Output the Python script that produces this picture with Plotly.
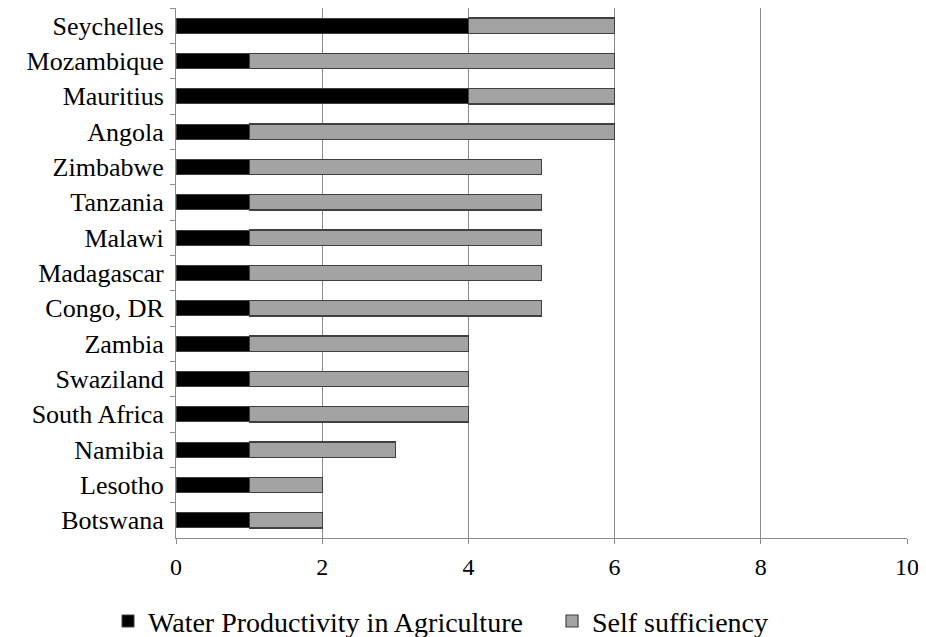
import plotly.graph_objects as go

countries = ["Seychelles", "Mozambique", "Mauritius", "Angola", "Zimbabwe", "Tanzania",
             "Malawi", "Madagascar", "Congo, DR", "Zambia", "Swaziland", "South Africa",
             "Namibia", "Lesotho", "Botswana"]
water_productivity = [4, 1, 4, 1, 1, 1, 1, 1, 1, 1, 1, 1, 1, 1, 1]
self_sufficiency = [2, 5, 2, 5, 4, 4, 4, 4, 4, 3, 3, 3, 2, 1, 1]
x_ticks = [0, 2, 4, 6, 8, 10]

FONT = "Liberation Serif, Times New Roman, serif"

fig = go.Figure()
fig.add_trace(go.Bar(
    y=countries, x=water_productivity, orientation="h",
    name="Water Productivity in Agriculture",
    marker=dict(color="#000000", line=dict(color="#404040", width=1)),
    width=0.43,
))
fig.add_trace(go.Bar(
    y=countries, x=self_sufficiency, orientation="h",
    name="Self sufficiency",
    marker=dict(color="#a3a3a3", line=dict(color="#404040", width=1.2)),
    width=0.43,
))

fig.update_layout(
    barmode="stack",
    width=926, height=637,
    margin=dict(l=168, r=27, t=0, b=107, autoexpand=False),
    paper_bgcolor="white", plot_bgcolor="white",
    font=dict(family=FONT, size=26, color="#000000"),
    showlegend=True,
    legend=dict(
        orientation="h", x=-0.093, y=-0.11, xanchor="left", yanchor="top",
        entrywidth=399, entrywidthmode="pixels", traceorder="normal",
        font=dict(family=FONT, size=28),
    ),
    xaxis=dict(
        range=[0, 10], tickvals=x_ticks, ticktext=[str(v) for v in x_ticks],
        showgrid=True, gridcolor="#8c8c8c", gridwidth=1,
        showline=True, linecolor="#8c8c8c", linewidth=1,
        ticks="outside", ticklen=5, tickcolor="#8c8c8c",
        zeroline=False, tickfont=dict(size=24), ticklabelstandoff=2,
        automargin=False,
    ),
    yaxis=dict(
        autorange="reversed", type="category",
        showline=True, linecolor="#8c8c8c", linewidth=1,
        ticks="outside", ticklen=5, tickcolor="#8c8c8c", tickson="boundaries",
        showgrid=False, tickfont=dict(size=26), ticklabelstandoff=6,
        automargin=False,
    ),
)

fig.write_html("out.html")
